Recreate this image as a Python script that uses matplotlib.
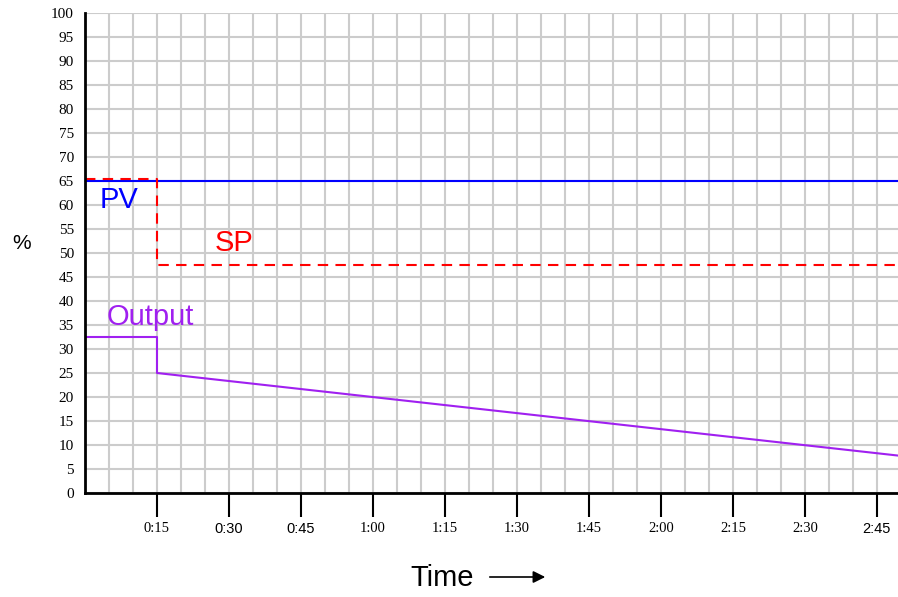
import matplotlib.pyplot as plt
from matplotlib.ticker import MultipleLocator

# Daten (Zeit in Minuten)
t_end = 169.4
pv_t = [0, t_end]
pv = [65, 65]
sp_t = [0, 15, 15, t_end]
sp = [65.5, 65.5, 47.5, 47.5]
out_t = [0, 15, 15, t_end]
out = [32.5, 32.5, 25, 7.8]
tick_pos = [15, 30, 45, 60, 75, 90, 105, 120, 135, 150, 165]
tick_lbl = ["0:15", "0:30", "0:45", "1:00", "1:15", "1:30", "1:45", "2:00", "2:15", "2:30", "2:45"]
sans_lbl = ["0:30", "0:45", "2:45"]

purple = "#a020f0"

fig = plt.figure(figsize=(8.98, 5.97), dpi=100)
ax = fig.add_axes([85 / 898, 104 / 597, 813 / 898, 480 / 597])

ax.plot(pv_t, pv, color="#0000ff", lw=1.5, zorder=3)
ax.plot(sp_t, sp, color="#ff0000", lw=1.5, ls=(0, (5, 3.5)), zorder=3)
ax.plot(out_t, out, color=purple, lw=1.5, zorder=3)

ax.set_xlim(0, t_end)
ax.set_ylim(0, 100)

# Gitter
ax.xaxis.set_minor_locator(MultipleLocator(5))
ax.set_xticks(tick_pos)
ax.set_xticklabels(tick_lbl)
ax.set_yticks(range(0, 101, 5))
ax.grid(True, which="both", color="#cccccc", lw=1.5, zorder=0)
ax.set_axisbelow(True)

ax.tick_params(axis="x", which="major", length=17, width=1.5, pad=4, labelsize=10.5)
ax.tick_params(axis="x", which="minor", length=0)
ax.tick_params(axis="y", length=0, pad=8, labelsize=11)
for lab in ax.get_yticklabels():
    lab.set_fontfamily("Liberation Serif")
for lab in ax.get_xticklabels():
    if lab.get_text() in sans_lbl:
        lab.set_fontfamily("Liberation Sans")
    else:
        lab.set_fontfamily("Liberation Serif")

for s in ["top", "right"]:
    ax.spines[s].set_visible(False)
for s in ["left", "bottom"]:
    ax.spines[s].set_linewidth(2)
    ax.spines[s].set_zorder(4)

# Beschriftungen
ax.text(3.0, 61.0, "PV", color="#0000ff", fontsize=21, family="Liberation Sans", va="center")
ax.text(27.0, 52.0, "SP", color="#ff0000", fontsize=21, family="Liberation Sans", va="center")
ax.text(4.6, 36.6, "Output", color=purple, fontsize=21, family="Liberation Sans", va="center")
fig.text(22 / 898, 1 - 244 / 597, "%", fontsize=15, family="Liberation Sans", ha="center", va="center")
fig.text(442 / 898, 1 - 578 / 597, "Time", fontsize=21, family="Liberation Sans", ha="center", va="center")
fig.add_artist(plt.Annotation("", xy=(548 / 898, 1 - 577 / 597), xytext=(487 / 898, 1 - 577 / 597),
                              xycoords="figure fraction",
                              arrowprops=dict(arrowstyle="-|>", color="black", lw=1.2, mutation_scale=18)))

fig.savefig("out.png", dpi=100)
